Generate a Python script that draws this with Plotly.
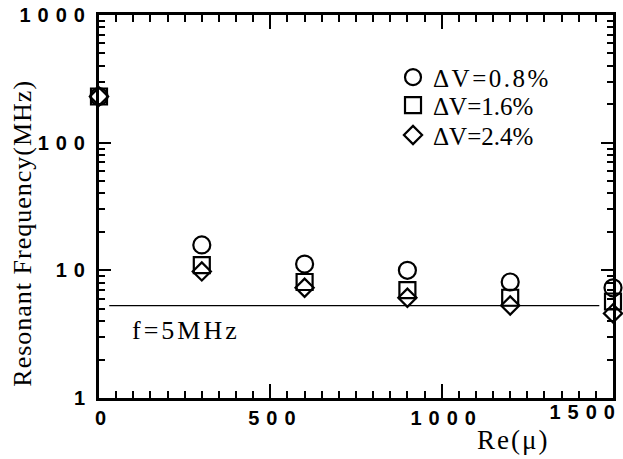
import math
import plotly.graph_objects as go

# ---- data ----
re_values = [0, 300, 600, 900, 1200, 1500]
freq_dv08 = [230, 15.8, 11.2, 10.0, 8.1, 7.3]
freq_dv16 = [230, 11.0, 8.1, 7.0, 6.1, 5.7]
freq_dv24 = [230, 9.8, 7.3, 6.1, 5.3, 4.6]
series_names = ["ΔV=0.8%", "ΔV=1.6%", "ΔV=2.4%"]
series_symbols = ["circle-open", "square-open", "diamond-open"]

ref_line_x = [30, 1460]
ref_line_y = [5.3, 5.3]
ref_label = "f=5MHz"
ref_label_pos = (118, 3.4)

x_tickvals = [0, 500, 1000]
x_ticktext = ["0", "500", "1000"]
x_end_tickvals = [1500]
x_end_ticktext = ["1500"]
y_tickvals = [1, 10, 100, 1000]
y_ticktext = ["1", "10", "100", "1000"]

x_title = "Re(μ)"
y_title = "Resonant Frequency(MHz)"

serif = "Liberation Serif, Times New Roman, serif"
sans = "Liberation Sans, Arial, sans-serif"

fig = go.Figure()

sizes = [17, 16, 14]
legend_ids = ["legend", "legend2", "legend3"]
for name, ys, sym, sz, lg in zip(series_names, [freq_dv08, freq_dv16, freq_dv24],
                                 series_symbols, sizes, legend_ids):
    fig.add_trace(go.Scatter(
        x=re_values, y=ys, mode="markers", name=name, legend=lg,
        marker=dict(symbol=sym, size=sz, color="black", line=dict(color="black", width=2.2)),
        cliponaxis=False,
    ))

fig.add_trace(go.Scatter(
    x=ref_line_x, y=ref_line_y, mode="lines", xaxis="x2",
    line=dict(color="black", width=1.3), showlegend=False, hoverinfo="skip",
))

fig.add_annotation(x=ref_label_pos[0], y=math.log10(ref_label_pos[1]),
                   xref="x", yref="y", text=ref_label, showarrow=False,
                   xanchor="left", yanchor="middle",
                   font=dict(family=serif, size=26, color="black"))
fig.add_annotation(x=-0.15, y=0.43, xref="paper", yref="paper", text=y_title,
                   textangle=-90, showarrow=False, xanchor="center", yanchor="middle",
                   font=dict(family=serif, size=26, color="black"))
fig.add_annotation(x=0.805, y=-0.11, xref="paper", yref="paper", text=x_title,
                   showarrow=False, xanchor="center", yanchor="middle",
                   font=dict(family=serif, size=27, color="black"))

tickfont = dict(family=sans, size=20, color="black", weight="bold")

def legend_box(ycenter):
    return dict(x=0.572, y=ycenter, xanchor="left", yanchor="middle",
                bgcolor="rgba(0,0,0,0)", borderwidth=0,
                font=dict(family=serif, size=25, color="black"),
                itemsizing="trace")

fig.update_layout(
    width=623, height=459,
    margin=dict(l=99, r=10, t=15, b=61, autoexpand=False),
    paper_bgcolor="white", plot_bgcolor="white",
    showlegend=True,
    legend=legend_box(0.837),
    legend2=legend_box(0.764),
    legend3=legend_box(0.686),
    xaxis=dict(range=[0, 1500], showgrid=False, zeroline=False,
               showline=True, linecolor="black", linewidth=3, mirror="ticks",
               tickmode="array", tickvals=x_tickvals, ticktext=x_ticktext,
               ticks="inside", ticklen=14, tickwidth=2, tickcolor="black",
               ticklabelshift=5, automargin=False,
               minor=dict(dtick=50, ticks="inside", ticklen=7, tickwidth=2, tickcolor="black", showgrid=False),
               tickfont=tickfont),
    xaxis2=dict(range=[0, 1500], overlaying="x", anchor="y", side="bottom",
                showgrid=False, zeroline=False, showline=False,
                tickmode="array", tickvals=x_end_tickvals, ticktext=x_end_ticktext,
                ticks="", ticklabelposition="outside left", ticklabelshift=9,
                automargin=False, tickfont=tickfont),
    yaxis=dict(type="log", range=[0, 3], showgrid=False, zeroline=False,
               showline=True, linecolor="black", linewidth=3, mirror="ticks",
               tickmode="array", tickvals=y_tickvals, ticktext=y_ticktext,
               ticks="inside", ticklen=12, tickwidth=2, tickcolor="black",
               automargin=False,
               minor=dict(dtick="D1", ticks="inside", ticklen=6, tickwidth=2, tickcolor="black", showgrid=False),
               tickfont=tickfont),
)

css = ("body{margin:0;padding:0;} "
       ".xtick text, .x2tick text, .ytick text { letter-spacing: 7px; } "
       ".annotation-text { letter-spacing: 3px; } "
       "text.legendtext { letter-spacing: 2.5px !important; } "
       ".scrollbox { clip-path: none !important; } "
       ".annotation[data-index=\"1\"] .annotation-text { letter-spacing: 1px; } "
       ".annotation[data-index=\"2\"] .annotation-text { letter-spacing: 2px; }")
post = "var s=document.createElement('style');s.textContent='" + css + "';document.head.appendChild(s);"
fig.write_html("out.html", post_script=post, config={"displayModeBar": False})
